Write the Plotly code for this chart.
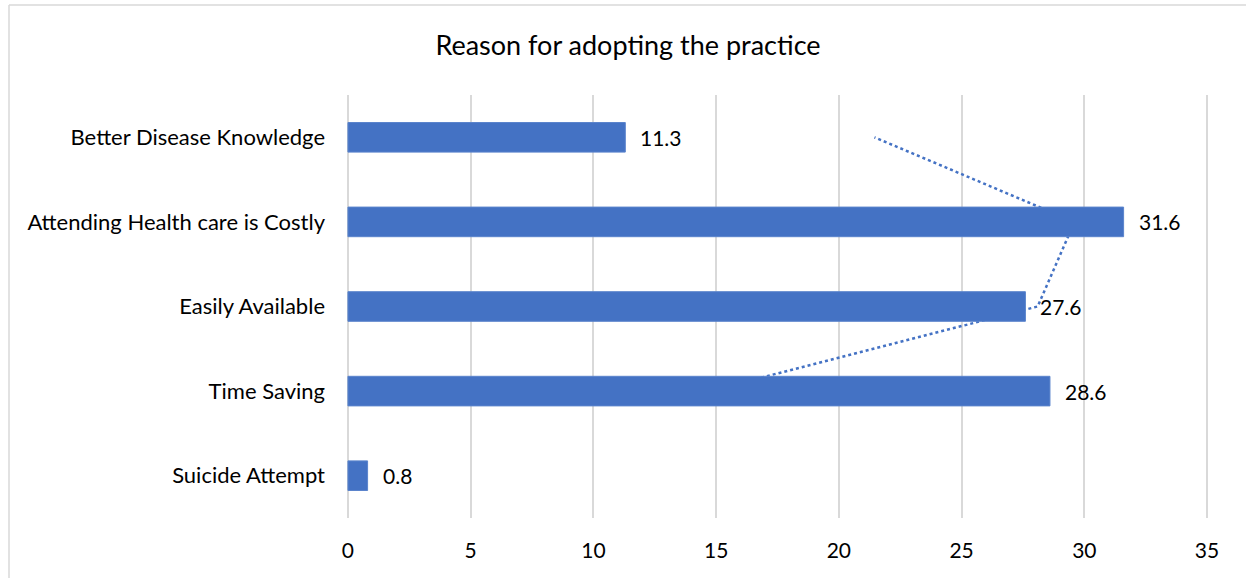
import plotly.graph_objects as go

categories = ["Suicide Attempt", "Time Saving", "Easily Available",
              "Attending Health care is Costly", "Better Disease Knowledge"]
values = [0.8, 28.6, 27.6, 31.6, 11.3]
x_ticks = [0, 5, 10, 15, 20, 25, 30, 35]
title = "Reason for adopting the practice"

# 2-period moving average trendline (as drawn by the spreadsheet)
ma_cats = categories[1:]
ma_vals = [(values[i - 1] + values[i]) / 2 for i in range(1, len(values))]

BLUE = "#4472C4"
FONT = "Lato"
TXT = "#000000"

fig = go.Figure()
# trendline on base axes (drawn underneath)
fig.add_trace(go.Scatter(x=ma_vals, y=ma_cats, mode="lines", xaxis="x", yaxis="y",
                         line=dict(color=BLUE, width=2.5, dash="dot"),
                         showlegend=False, hoverinfo="skip"))
# bars on overlay axes (drawn on top)
fig.add_trace(go.Bar(x=values, y=categories, orientation="h", xaxis="x2", yaxis="y2",
                     marker=dict(color=BLUE, line=dict(color="#5b84cc", width=1)),
                     width=0.35, showlegend=False))

annotations = []
for c, v in zip(categories, values):
    annotations.append(dict(x=v, y=c, xref="x2", yref="y2", text=str(v),
                            showarrow=False, xanchor="left", xshift=13,
                            font=dict(family=FONT, size=21, color=TXT)))

rng = [-0.12, 35.12]
fig.update_layout(
    width=1246, height=578,
    margin=dict(l=345, r=36, t=95, b=60),
    paper_bgcolor="white", plot_bgcolor="white",
    title=dict(text=title, x=0.504, xref="container", xanchor="center",
               y=0.922, yanchor="middle",
               font=dict(family=FONT, size=27, color=TXT)),
    xaxis=dict(range=rng, tickvals=x_ticks, showgrid=True, gridcolor="#d9d9d9", gridwidth=1.5,
               zeroline=False, showline=False, ticks="", ticklabelstandoff=18,
               tickfont=dict(family=FONT, size=21, color=TXT)),
    yaxis=dict(type="category", categoryorder="array", categoryarray=categories,
               range=[-0.5, 4.5], showgrid=False, zeroline=False, showline=False,
               ticks="", ticklabelstandoff=19,
               tickfont=dict(family=FONT, size=22, color=TXT)),
    xaxis2=dict(range=rng, overlaying="x", showgrid=False, zeroline=False,
                showline=False, showticklabels=False, matches="x"),
    yaxis2=dict(type="category", categoryorder="array", categoryarray=categories,
                range=[-0.5, 4.5], overlaying="y", showgrid=False, zeroline=False,
                showline=False, showticklabels=False),
    annotations=annotations,
    shapes=[
        dict(type="line", xref="paper", yref="paper", x0=(9 - 345) / 865, x1=(1250 - 345) / 865,
             y0=(518 - 5) / 423, y1=(518 - 5) / 423, line=dict(color="#d9d9d9", width=1.5)),
        dict(type="line", xref="paper", yref="paper", x0=(9 - 345) / 865, x1=(9 - 345) / 865,
             y0=(518 - 5) / 423, y1=(518 - 585) / 423, line=dict(color="#d9d9d9", width=1.5)),
    ],
)
fig.write_html("out.html")
